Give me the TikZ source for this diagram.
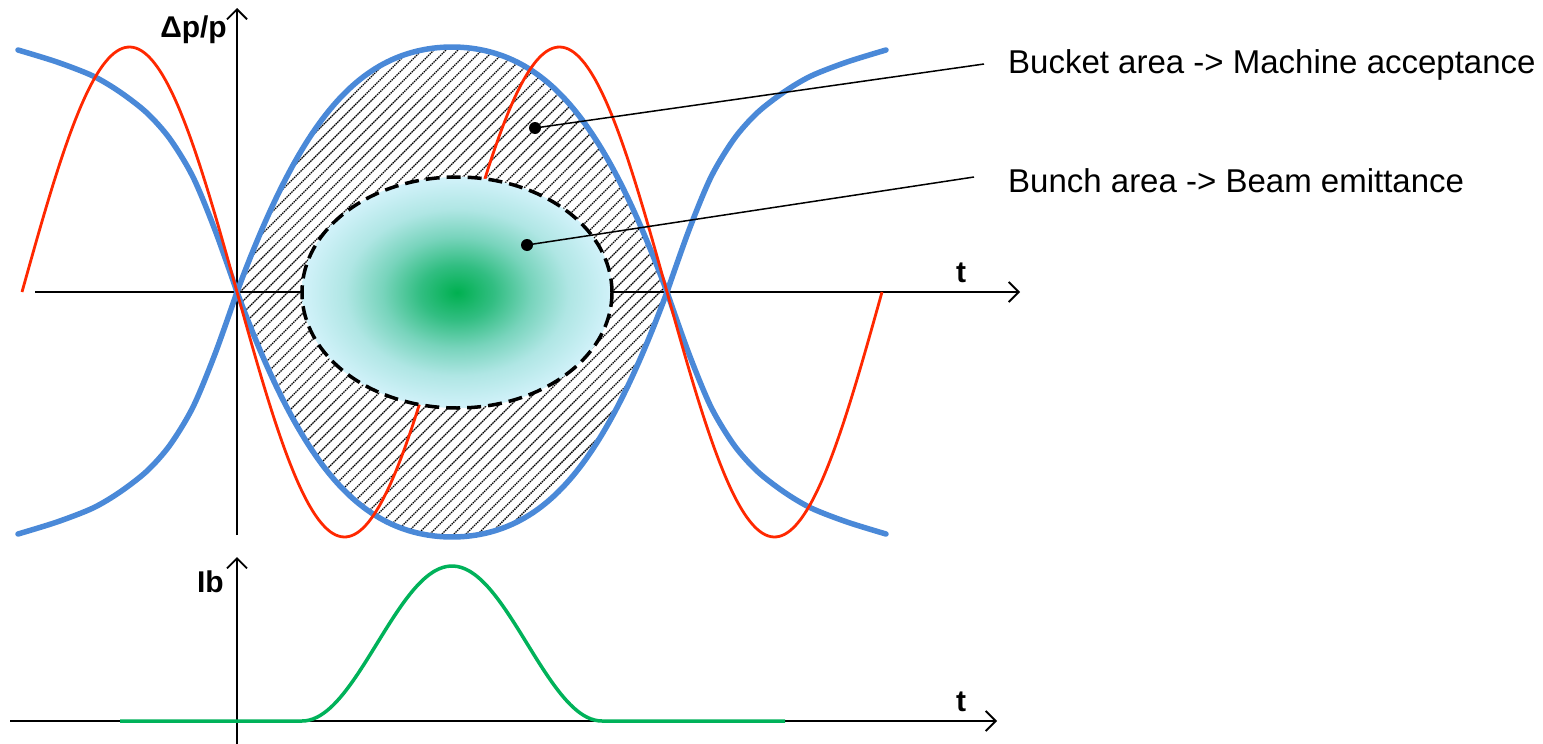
\documentclass[tikz,border=0pt]{standalone}
\usepackage{fontspec}
\setmainfont{Liberation Sans}
\usetikzlibrary{arrows.meta}
\definecolor{sepblue}{RGB}{74,137,216}
\definecolor{rfred}{RGB}{255,40,0}
\definecolor{bgreen}{RGB}{0,176,80}
\definecolor{bgA}{RGB}{50,190,130}
\definecolor{bgB}{RGB}{120,212,188}
\definecolor{bgC}{RGB}{175,230,228}
\definecolor{bedge}{RGB}{210,242,250}
\definecolor{profgreen}{RGB}{0,178,90}
\pgfdeclareradialshading{bunchshade}{\pgfpoint{0bp}{0bp}}{color(0bp)=(bgreen); color(6bp)=(bgA); color(12bp)=(bgB); color(18bp)=(bgC); color(25bp)=(bedge); color(50bp)=(bedge)}
\tikzset{
  declare function={uu(\t)=abs(cos((\t-452)/430*180)); bf(\t)=245*uu(\t)*(1.5-0.5*uu(\t));},
  axisline/.style={line width=1.8pt, -{Straight Barb[length=10pt,width=20pt,line width=1.8pt]}},
  plainaxis/.style={line width=1.8pt},
  sepline/.style={sepblue, line width=5.5pt, line cap=round, line join=round},
  rfline/.style={rfred, line width=2.8pt},
  hatchline/.style={black, line width=1.4pt, dash pattern=on 1.5pt off 0.8pt},
  bunchedge/.style={black, line width=3.5pt, dash pattern=on 14pt off 7pt},
  dotnode/.style={circle, fill=black, inner sep=0pt, minimum size=12pt},
  leader/.style={black, line width=1.5pt},
  axlabel/.style={font=\fontsize{30}{34}\selectfont\bfseries, inner sep=0pt},
  note/.style={font=\fontsize{33}{38}\selectfont, inner sep=0pt, anchor=base west},
  profline/.style={profgreen, line width=3.5pt}
}
\begin{document}
\begin{tikzpicture}[x=1pt,y=-1pt]
\useasboundingbox (0,0) rectangle (1543,744);
\fill[white] (0,0) rectangle (1543,744);
% hatching inside the bucket
\begin{scope}
  \clip plot[domain=237:667,samples=100] (\x,{292-bf(\x)})
     -- plot[domain=667:237,samples=100] (\x,{292+bf(\x)}) -- cycle;
  \foreach \c in {436,448,...,1072} \draw[hatchline] (\c-700,700) -- (\c,0);
\end{scope}
% axes (upper)
\coordinate (yaxbot) at (237,535);
\coordinate (yaxtop) at (237,8);
\coordinate (txleft) at (35,292);
\coordinate (txright) at (1020,292);
\draw[plainaxis] (yaxbot) -- (237,292);
\draw[axisline] (237,292) -- (yaxtop);
\draw[axisline] (txleft) -- (txright);
% separatrix: bucket
\draw[sepline] plot[domain=237:667,samples=100,smooth] (\x,{292-bf(\x)})
   -- plot[domain=667:237,samples=100,smooth] (\x,{292+bf(\x)}) -- cycle;
% separatrix: outer branches
\draw[sepline] plot[smooth] coordinates {(18,50) (57,62) (93,76) (120,92) (147,113) (170,139) (193,177) (215,230) (237,292)};
\draw[sepline] plot[smooth] coordinates {(18,534) (57,522) (93,508) (120,492) (147,471) (170,445) (193,407) (215,354) (237,292)};
\draw[sepline] plot[smooth] coordinates {(886,50) (847,62) (811,76) (784,92) (757,113) (734,139) (711,177) (689,230) (667,292)};
\draw[sepline] plot[smooth] coordinates {(886,534) (847,522) (811,508) (784,492) (757,471) (734,445) (711,407) (689,354) (667,292)};
% rf wave
\draw[rfline] plot[domain=22:882,samples=160,smooth] (\x,{292-245*sin((\x-22)/215*180)});
% bunch
\draw[bunchedge, shading=bunchshade] (457,292.5) ellipse [x radius=155pt, y radius=115.5pt];
% labels
\node[axlabel, anchor=base east] (dpp) at (227,37) {Δp/p};
\node[axlabel, anchor=base west] (tup) at (956,282) {t};
\node[note] (bucket) at (1008,73) {Bucket area -> Machine acceptance};
\node[note] (bunch) at (1008,192) {Bunch area -> Beam emittance};
\coordinate (bucketend) at (984,64);
\coordinate (bunchend) at (974,177);
\node[dotnode] (dotA) at (535,128) {};
\node[dotnode] (dotB) at (527,245) {};
\draw[leader] (dotA.center) -- (bucketend);
\draw[leader] (dotB.center) -- (bunchend);
% lower plot
\coordinate (ibbot) at (237,744);
\coordinate (ibtop) at (237,557);
\coordinate (tbleft) at (10,721);
\coordinate (tbright) at (997,721);
\draw[axisline] (ibbot) -- (ibtop);
\draw[axisline] (tbleft) -- (tbright);
\node[axlabel, anchor=base east] (ib) at (224,592) {Ib};
\node[axlabel, anchor=base west] (tlow) at (956,711) {t};
\draw[profline] (120,721) -- plot[domain=302:602,samples=80,smooth] (\x,{721-155*pow(cos((\x-452)/300*180),2)}) -- (785,721);
\end{tikzpicture}
\end{document}
